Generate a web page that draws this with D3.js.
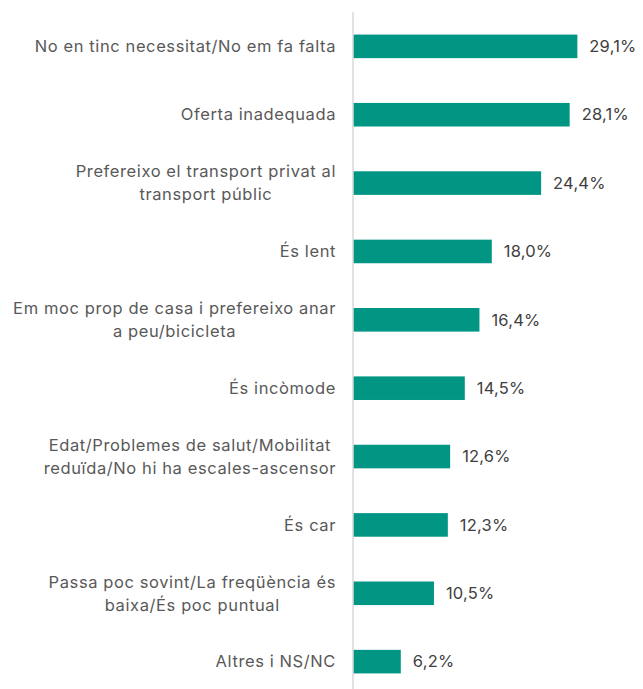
<!DOCTYPE html>
<html>
<head>
<meta charset="utf-8">
<script src="https://cdn.jsdelivr.net/npm/d3@7"></script>
<style>
  html, body { margin: 0; padding: 0; background: #fff; }
  svg { display: block; }
</style>
</head>
<body>
<svg id="chart" width="643" height="689"></svg>
<script>
// Motius per no utilitzar el transport públic (%)
const categories = [
  ["No en tinc necessitat/No em fa falta"],
  ["Oferta inadequada"],
  ["Prefereixo el transport privat al", "transport públic"],
  ["És lent"],
  ["Em moc prop de casa i prefereixo anar", "a peu/bicicleta"],
  ["És incòmode"],
  ["Edat/Problemes de salut/Mobilitat", "reduïda/No hi ha escales-ascensor"],
  ["És car"],
  ["Passa poc sovint/La freqüència és", "baixa/És poc puntual"],
  ["Altres i NS/NC"]
];
const values = [29.1, 28.1, 24.4, 18.0, 16.4, 14.5, 12.6, 12.3, 10.5, 6.2];
const valueLabels = ["29,1%", "28,1%", "24,4%", "18,0%", "16,4%", "14,5%", "12,6%", "12,3%", "10,5%", "6,2%"];

const svg = d3.select("#chart");
const axisX = 353;
const font = "Inter, 'Noto Sans', sans-serif";

const x = d3.scaleLinear().domain([0, 30]).range([axisX, axisX + 30 * 7.71]);
const y = d3.scaleBand()
  .domain(d3.range(categories.length))
  .range([12, 696])
  .paddingInner(0.655)
  .paddingOuter(0.33);

// bars
svg.append("g").selectAll("rect")
  .data(values)
  .join("rect")
  .attr("x", x(0))
  .attr("y", (d, i) => y(i))
  .attr("width", d => x(d) - x(0))
  .attr("height", y.bandwidth())
  .attr("fill", "#009683");

// vertical axis line
svg.append("line")
  .attr("x1", axisX).attr("x2", axisX)
  .attr("y1", 12).attr("y2", 689)
  .attr("stroke", "#d9d9d9")
  .attr("stroke-width", 1.5);

// value labels
svg.append("g").selectAll("text")
  .data(values)
  .join("text")
  .attr("x", d => x(d) + 12)
  .attr("y", (d, i) => y(i) + y.bandwidth() / 2)
  .attr("dy", "0.35em")
  .attr("font-family", font)
  .attr("font-size", 16.5)
  .attr("letter-spacing", 0.2)
  .attr("fill", "#404040")
  .text((d, i) => valueLabels[i]);

// category labels: multi-line blocks centred on themselves, right-aligned to the axis
const lineH = 23;
const labelRight = 336;
const lg = svg.append("g");
categories.forEach((lines, i) => {
  const cy = y(i) + y.bandwidth() / 2;
  const t = lg.append("text")
    .attr("font-family", font)
    .attr("font-size", 16.5)
    .attr("letter-spacing", 0.6)
    .attr("fill", "#595959")
    .attr("text-anchor", "middle");
  const spans = lines.map((s, j) => t.append("tspan")
    .attr("y", cy + (j - (lines.length - 1) / 2) * lineH)
    .attr("dy", "0.35em")
    .text(s));
  const w = d3.max(spans, sp => sp.node().getComputedTextLength());
  spans.forEach(sp => sp.attr("x", labelRight - w / 2));
});
</script>
</body>
</html>
